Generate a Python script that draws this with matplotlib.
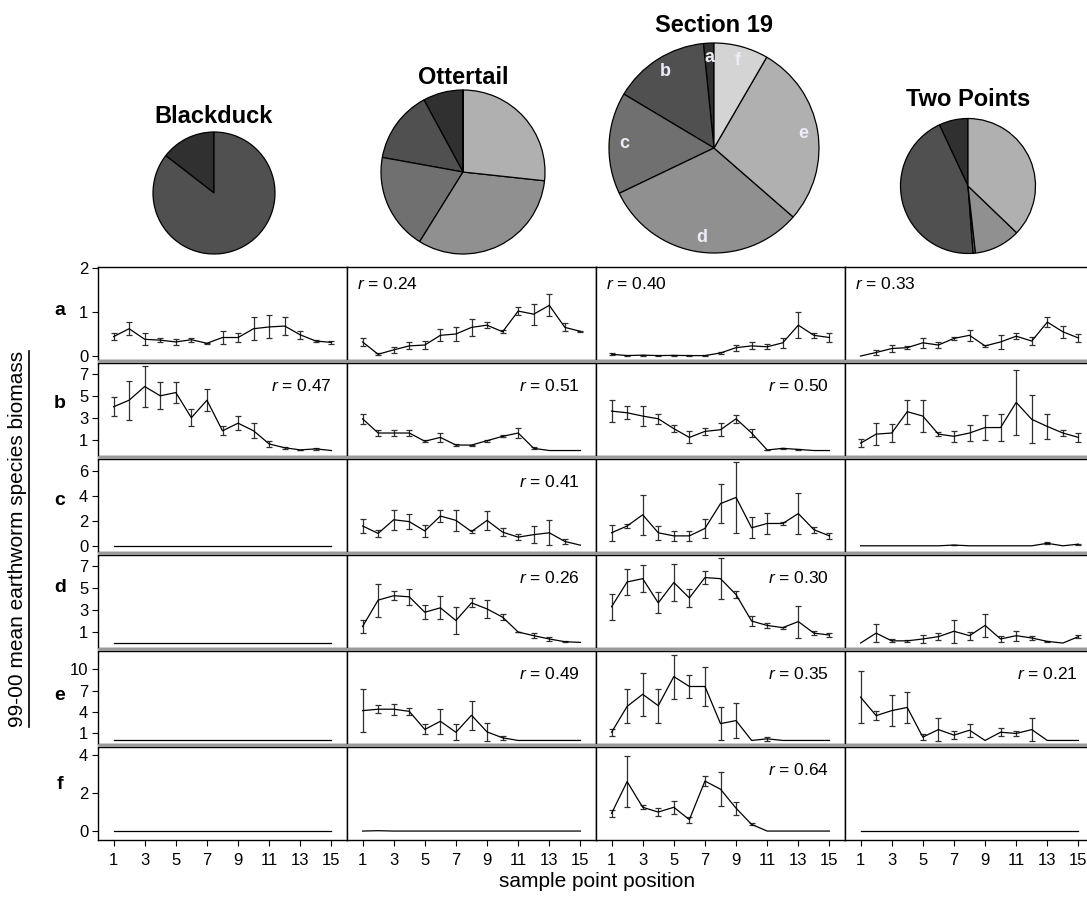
import numpy as np
import matplotlib
matplotlib.use('Agg')
import matplotlib.pyplot as plt
from matplotlib.lines import Line2D
from matplotlib.patches import Rectangle

plt.rcParams['font.family'] = ['Liberation Sans', 'DejaVu Sans']
plt.rcParams['mathtext.fontset'] = 'custom'
plt.rcParams['mathtext.it'] = 'Liberation Sans:italic'
plt.rcParams['mathtext.rm'] = 'Liberation Sans'

# ---------------- data ----------------
positions = list(range(1, 16))
sites = ['Blackduck', 'Ottertail', 'Section 19', 'Two Points']
species = ['a', 'b', 'c', 'd', 'e', 'f']
zeros15 = [0.0] * 15

# Blackduck
bd_a_mean = [0.44, 0.62, 0.38, 0.36, 0.32, 0.37, 0.29, 0.42, 0.42, 0.62, 0.66, 0.68, 0.48, 0.34, 0.31]
bd_a_err = [0.08, 0.15, 0.14, 0.04, 0.06, 0.05, 0.01, 0.15, 0.10, 0.26, 0.26, 0.20, 0.09, 0.03, 0.04]
bd_b_mean = [4.0, 4.6, 5.85, 5.0, 5.3, 3.0, 4.6, 1.8, 2.5, 1.8, 0.6, 0.25, 0.06, 0.15, 0.0]
bd_b_err = [0.85, 1.8, 1.9, 1.25, 1.0, 0.8, 1.0, 0.4, 0.65, 0.7, 0.25, 0.1, 0.03, 0.1, 0.0]

# Ottertail
ot_a_mean = [0.32, 0.04, 0.14, 0.23, 0.25, 0.47, 0.50, 0.65, 0.70, 0.55, 1.02, 0.95, 1.15, 0.65, 0.56]
ot_a_err = [0.09, 0.02, 0.07, 0.08, 0.09, 0.14, 0.16, 0.20, 0.07, 0.03, 0.09, 0.24, 0.25, 0.09, 0.01]
ot_b_mean = [2.9, 1.6, 1.6, 1.6, 0.85, 1.2, 0.5, 0.5, 0.9, 1.3, 1.6, 0.2, 0.0, 0.0, 0.0]
ot_b_err = [0.45, 0.3, 0.3, 0.25, 0.1, 0.4, 0.1, 0.05, 0.1, 0.1, 0.5, 0.1, 0.0, 0.0, 0.0]
ot_c_mean = [1.6, 1.0, 2.1, 1.95, 1.2, 2.4, 2.05, 1.15, 2.05, 1.1, 0.7, 0.9, 1.05, 0.35, 0.05]
ot_c_err = [0.55, 0.25, 0.8, 0.6, 0.5, 0.5, 0.85, 0.1, 0.75, 0.3, 0.25, 0.7, 1.0, 0.2, 0.0]
ot_d_mean = [1.5, 3.9, 4.3, 4.2, 2.8, 3.2, 2.05, 3.65, 3.1, 2.35, 1.0, 0.67, 0.37, 0.12, 0.06]
ot_d_err = [0.6, 1.5, 0.4, 0.7, 0.65, 1.05, 1.25, 0.4, 0.85, 0.25, 0.03, 0.2, 0.15, 0.03, 0.0]
ot_e_mean = [4.2, 4.4, 4.4, 4.1, 1.55, 2.7, 1.15, 3.55, 1.2, 0.37, 0.0, 0.0, 0.0, 0.0, 0.0]
ot_e_err = [3.0, 0.6, 0.75, 0.45, 0.7, 1.75, 1.1, 2.05, 1.3, 0.3, 0.0, 0.0, 0.0, 0.0, 0.0]
ot_f_mean = [0.0, 0.02, 0.0, 0.0, 0.0, 0.0, 0.0, 0.0, 0.0, 0.0, 0.0, 0.0, 0.0, 0.0, 0.0]

# Section 19
s19_a_mean = [0.04, 0.01, 0.02, 0.01, 0.015, 0.01, 0.01, 0.07, 0.19, 0.23, 0.21, 0.30, 0.70, 0.47, 0.42]
s19_a_err = [0.02, 0.01, 0.01, 0.01, 0.01, 0.01, 0.01, 0.02, 0.07, 0.08, 0.06, 0.12, 0.30, 0.05, 0.10]
s19_b_mean = [3.6, 3.45, 3.15, 2.9, 2.0, 1.2, 1.75, 1.9, 2.9, 1.6, 0.05, 0.2, 0.1, 0.0, 0.0]
s19_b_err = [1.0, 0.6, 0.9, 0.45, 0.35, 0.55, 0.35, 0.6, 0.35, 0.35, 0.02, 0.05, 0.05, 0.0, 0.0]
s19_c_mean = [1.05, 1.6, 2.5, 1.05, 0.8, 0.8, 1.4, 3.4, 3.9, 1.45, 1.8, 1.8, 2.6, 1.3, 0.8]
s19_c_err = [0.65, 0.15, 1.6, 0.55, 0.4, 0.4, 0.75, 1.6, 2.85, 0.85, 0.85, 0.15, 1.65, 0.25, 0.25]
s19_d_mean = [3.3, 5.55, 5.85, 3.65, 5.5, 4.1, 5.95, 5.85, 4.4, 2.0, 1.6, 1.4, 1.95, 0.9, 0.73]
s19_d_err = [1.2, 1.15, 1.2, 0.95, 1.7, 0.85, 0.6, 1.85, 0.3, 0.45, 0.25, 0.1, 1.45, 0.2, 0.2]
s19_e_mean = [1.15, 4.8, 6.5, 4.9, 9.0, 7.6, 7.6, 2.37, 2.8, 0.0, 0.23, 0.0, 0.0, 0.0, 0.0]
s19_e_err = [0.5, 2.4, 3.0, 2.4, 3.1, 1.6, 2.8, 2.3, 2.45, 0.0, 0.25, 0.0, 0.0, 0.0, 0.0]
s19_f_mean = [0.93, 2.6, 1.25, 1.0, 1.25, 0.6, 2.63, 2.2, 1.2, 0.35, 0.0, 0.0, 0.0, 0.0, 0.0]
s19_f_err = [0.2, 1.35, 0.1, 0.2, 0.35, 0.15, 0.25, 0.9, 0.35, 0.05, 0.0, 0.0, 0.0, 0.0, 0.0]

# Two Points
tp_a_mean = [0.0, 0.08, 0.17, 0.19, 0.30, 0.25, 0.40, 0.47, 0.23, 0.32, 0.45, 0.34, 0.77, 0.55, 0.41]
tp_a_err = [0.0, 0.05, 0.07, 0.04, 0.11, 0.07, 0.03, 0.12, 0.02, 0.15, 0.07, 0.09, 0.11, 0.13, 0.10]
tp_b_mean = [0.67, 1.5, 1.6, 3.55, 3.15, 1.5, 1.3, 1.6, 2.1, 2.1, 4.4, 2.85, 2.2, 1.6, 1.2]
tp_b_err = [0.35, 1.0, 0.8, 1.1, 1.5, 0.15, 0.5, 0.7, 1.15, 1.2, 3.0, 2.2, 1.15, 0.25, 0.4]
tp_c_mean = [0.0, 0.0, 0.0, 0.0, 0.0, 0.0, 0.06, 0.0, 0.0, 0.0, 0.0, 0.0, 0.2, 0.0, 0.13]
tp_c_err = [0.0, 0.0, 0.0, 0.0, 0.0, 0.0, 0.02, 0.0, 0.0, 0.0, 0.0, 0.0, 0.08, 0.0, 0.05]
tp_d_mean = [0.0, 0.9, 0.2, 0.2, 0.37, 0.58, 1.07, 0.67, 1.6, 0.37, 0.67, 0.46, 0.15, 0.0, 0.58]
tp_d_err = [0.0, 0.85, 0.15, 0.12, 0.35, 0.3, 1.05, 0.37, 1.05, 0.3, 0.45, 0.2, 0.05, 0.0, 0.14]
tp_e_mean = [6.1, 3.5, 4.2, 4.65, 0.47, 1.53, 0.75, 1.44, 0.0, 1.16, 0.98, 1.53, 0.0, 0.0, 0.0]
tp_e_err = [3.7, 0.6, 2.15, 2.15, 0.4, 1.6, 0.6, 0.9, 0.0, 0.6, 0.35, 1.6, 0.0, 0.0, 0.0]

# correlation annotations (site, species, r)
r_sites = ['Ottertail', 'Section 19', 'Two Points', 'Blackduck', 'Ottertail', 'Section 19',
           'Ottertail', 'Ottertail', 'Section 19', 'Ottertail', 'Section 19', 'Two Points', 'Section 19']
r_species = ['a', 'a', 'a', 'b', 'b', 'b', 'c', 'd', 'd', 'e', 'e', 'e', 'f']
r_values = ['0.24', '0.40', '0.33', '0.47', '0.51', '0.50', '0.41', '0.26', '0.30', '0.49', '0.35', '0.21', '0.64']

row_yticks = {'a': [0, 1, 2], 'b': [1, 3, 5, 7], 'c': [0, 2, 4, 6],
              'd': [1, 3, 5, 7], 'e': [1, 4, 7, 10], 'f': [0, 2, 4]}

# ---------------- assemble ----------------
means = {
    'Blackduck': [bd_a_mean, bd_b_mean, zeros15, zeros15, zeros15, zeros15],
    'Ottertail': [ot_a_mean, ot_b_mean, ot_c_mean, ot_d_mean, ot_e_mean, ot_f_mean],
    'Section 19': [s19_a_mean, s19_b_mean, s19_c_mean, s19_d_mean, s19_e_mean, s19_f_mean],
    'Two Points': [tp_a_mean, tp_b_mean, tp_c_mean, tp_d_mean, tp_e_mean, zeros15],
}
errs = {
    'Blackduck': [bd_a_err, bd_b_err, zeros15, zeros15, zeros15, zeros15],
    'Ottertail': [ot_a_err, ot_b_err, ot_c_err, ot_d_err, ot_e_err, zeros15],
    'Section 19': [s19_a_err, s19_b_err, s19_c_err, s19_d_err, s19_e_err, s19_f_err],
    'Two Points': [tp_a_err, tp_b_err, tp_c_err, tp_d_err, tp_e_err, zeros15],
}

# ---------------- layout (pixels) ----------------
W, H = 1087, 897
fig = plt.figure(figsize=(W / 100, H / 100), dpi=100)

def add_ax(x0, y0, w, h):
    return fig.add_axes([x0 / W, 1 - (y0 + h) / H, w / W, h / H])

col_left = [98, 347, 596, 845]
col_w = 249
row_top = [267, 363, 459, 555, 651, 747]
row_h = 93
row_ylim = {'a': (-0.09, 2.02), 'b': (-0.5, 8.0), 'c': (-0.5, 7.0),
            'd': (-0.45, 8.0), 'e': (-0.5, 12.6), 'f': (-0.47, 4.42)}
species_colors = ['#303030', '#505050', '#707070', '#909090', '#b0b0b0', '#d4d4d4']

x = np.array(positions)
axes = {}
for ri, sp in enumerate(species):
    for ci, site in enumerate(sites):
        ax = add_ax(col_left[ci], row_top[ri], col_w, row_h)
        axes[(site, sp)] = ax
        m = np.array(means[site][ri])
        e = np.array(errs[site][ri])
        ax.plot(x, m, color='black', lw=0.9, zorder=3)
        mask = e > 0
        if mask.any():
            ax.errorbar(x[mask], m[mask], yerr=e[mask], fmt='none', ecolor='#303030',
                        elinewidth=0.9, capsize=2.3, capthick=0.9, zorder=2)
        ax.set_xlim(0, 16)
        ax.set_ylim(*row_ylim[sp])
        for s in ax.spines.values():
            s.set_linewidth(1.0)
            s.set_color('black')
        ax.tick_params(direction='out', length=4, width=0.8, labelsize=12, pad=3)
        if ci == 0:
            ax.set_yticks(row_yticks[sp])
        else:
            ax.set_yticks([])
        if ri == len(species) - 1:
            ax.set_xticks(range(1, 16, 2))
            ax.tick_params(axis='x', pad=5)
        else:
            ax.set_xticks([])

# gray double-line fill between rows
for ri in range(1, 6):
    y0 = row_top[ri - 1] + row_h
    gap = row_top[ri] - y0
    fig.add_artist(Rectangle((col_left[0] / W, 1 - row_top[ri] / H), (W - col_left[0]) / W, gap / H,
                             transform=fig.transFigure, facecolor='#9a9a9a', edgecolor='none', zorder=5))

# r annotations
for site, sp, rv in zip(r_sites, r_species, r_values):
    ax = axes[(site, sp)]
    label = '$r$ = ' + rv
    if sp == 'a':
        ax.text(10 / col_w, 1 - 17 / row_h, label, transform=ax.transAxes,
                ha='left', va='center', fontsize=12.5)
    else:
        ax.text(1 - 16 / col_w, 1 - 23 / row_h, label, transform=ax.transAxes,
                ha='right', va='center', fontsize=12.5)

# row letters
letter_y = [310, 403, 500, 588, 695, 784]
for sp, ly in zip(species, letter_y):
    fig.text(60 / W, 1 - ly / H, sp, fontsize=14, fontweight='bold', ha='center', va='center')

# axis labels
ylab = fig.text(18 / W, 1 - 539 / H, '99-00 mean earthworm species biomass', rotation=90,
                fontsize=15, ha='center', va='center')
fig.text(597 / W, 1 - 881 / H, 'sample point position', fontsize=15, ha='center', va='center')

fig.canvas.draw()
bb = ylab.get_window_extent()
ux = (bb.x1 + 1) / W
fig.add_artist(Line2D([ux, ux], [bb.y0 / H, bb.y1 / H], color='black', lw=1.2,
                      transform=fig.transFigure))

# ---------------- pies ----------------
pie_cx = [214, 463, 714, 968]
pie_cy = [193, 172, 148, 186]
pie_r = [61, 82, 105, 67.5]
title_y = [116, 78, 25, 100]

for ci, site in enumerate(sites):
    cx, cy, r = pie_cx[ci], pie_cy[ci], pie_r[ci]
    pad = 3
    pax = add_ax(cx - r - pad, cy - r - pad, 2 * (r + pad), 2 * (r + pad))
    totals = [float(np.sum(v)) for v in means[site]]
    vals, cols, labs = [], [], []
    for sp, t, c in zip(species, totals, species_colors):
        if t > 0:
            vals.append(t)
            cols.append(c)
            labs.append(sp)
    wedges, _ = pax.pie(vals, colors=cols, startangle=90, counterclock=True,
                        wedgeprops=dict(edgecolor='black', linewidth=0.9))
    lim = 1 + pad / r
    pax.set_xlim(-lim, lim)
    pax.set_ylim(-lim, lim)
    pax.set_aspect('equal')
    pax.axis('off')
    if site == 'Section 19':
        for w, lb in zip(wedges, labs):
            th = np.deg2rad((w.theta1 + w.theta2) / 2)
            pax.text(0.86 * np.cos(th), 0.86 * np.sin(th), lb, color='#ececf6',
                     fontsize=13, fontweight='bold', ha='center', va='center')
    fig.text(cx / W, 1 - title_y[ci] / H, site, fontsize=17, fontweight='bold',
             ha='center', va='center')

fig.savefig('out.png', dpi=100)
